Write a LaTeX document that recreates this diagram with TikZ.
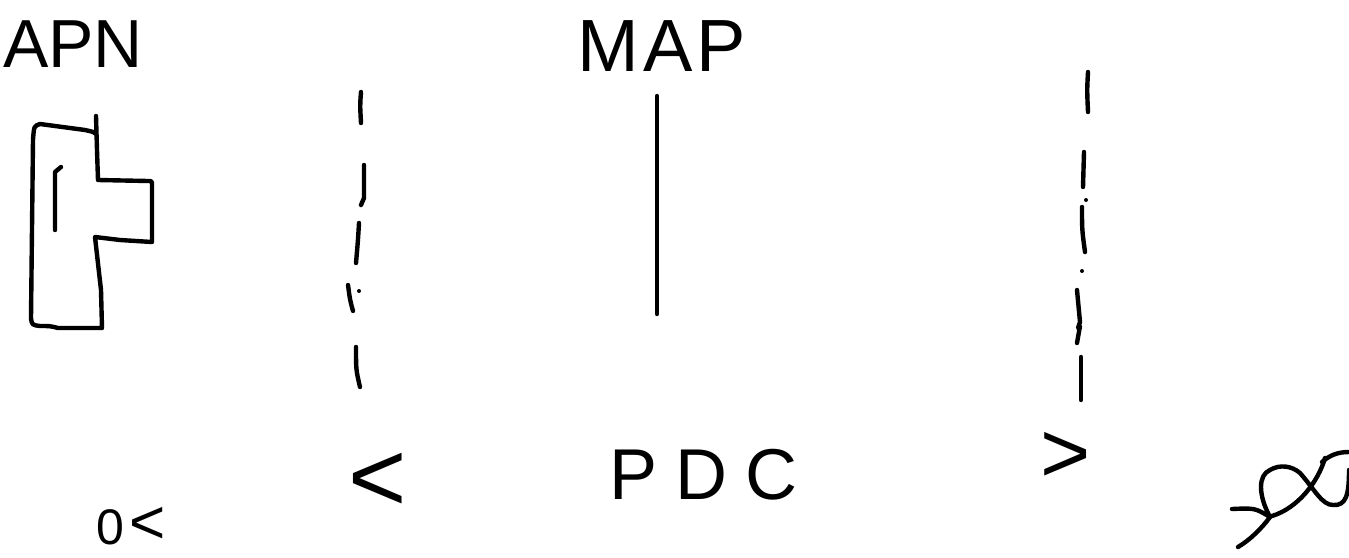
\documentclass[tikz,border=0pt]{standalone}
\usepackage{fontspec}
\setmainfont{Liberation Sans}
\begin{document}
\begin{tikzpicture}[x=1pt,y=-1pt,
  pen/.style={line width=4.4pt,line cap=round,line join=round,black},
  hand/.style={anchor=base,inner sep=0pt,black},
  dotmark/.style={fill=black}]
\useasboundingbox (0,0) rectangle (1349,557);
% labels
\node[hand,font=\fontsize{68}{72}\selectfont] (apn) at (73,67) {APN};
\node[hand,font=\fontsize{74}{78}\selectfont] (map) at (662,71) {M\kern4pt A\kern4pt P};
\node[hand,font=\fontsize{72}{76}\selectfont] (pdc) at (703,499) {P\kern18pt D\kern18pt C};
\node[hand,font=\fontsize{50}{54}\selectfont] (ok0) at (110,544) {0};
\node[hand,font=\fontsize{62}{66}\selectfont] (oklt) at (148,543) {<};
\node[hand,font=\fontsize{100}{104}\selectfont] (lt) at (378,511) {<};
\node[hand,font=\fontsize{86}{90}\selectfont] (gt) at (1066,482) {>};
% T-shaped box
\draw[pen] (96,116) -- (97,150) -- (98,180) -- (148,181) .. controls (152,181) .. (152,186)
  -- (152,242) -- (120,240) -- (95,237) -- (101,290) -- (102,328) -- (58,328)
  .. controls (50,326) .. (40,326) .. controls (32,325) .. (31,318)
  -- (33,140) .. controls (34,126) .. (40,124) -- (85,130) .. controls (94,132) .. (96,134);
\draw[pen] (61,167) -- (55,172) -- (55,230);
% middle line
\draw[pen] (657,96) -- (657,314);
% left dashed line
\draw[pen] (361,92) .. controls (360,105) .. (361,123);
\draw[pen] (364,165) -- (364,198) -- (361,205);
\draw[pen] (359,223) .. controls (358,240) .. (356,263);
\draw[pen] (348,285) .. controls (350,300) .. (353,311);
\fill[dotmark] (359,291) circle (2);
\draw[pen] (356,347) .. controls (356,370) .. (360,387);
% right dashed line
\draw[pen] (1088,72) .. controls (1087,90) .. (1088,112);
\draw[pen] (1084,152) -- (1083,187);
\fill[dotmark] (1086,200) circle (2);
\draw[pen] (1082,207) .. controls (1082,230) .. (1085,252);
\fill[dotmark] (1082,271) circle (2);
\draw[pen] (1077,290) -- (1080,322) -- (1078,328) -- (1080,326) -- (1077,343);
\draw[pen] (1081,357) -- (1081,400);
% infinity scribble
\draw[pen] (1232,509) .. controls (1255,508) .. (1270,517) .. controls (1262,528) and (1250,540) .. (1238,547);
\draw[pen] (1270,517) .. controls (1258,495) and (1258,475) .. (1270,470)
  .. controls (1280,464) and (1292,466) .. (1300,473)
  .. controls (1315,490) and (1322,505) .. (1333,505)
  .. controls (1346,506) and (1349,495) .. (1349,470);
\draw[pen] (1322,462) .. controls (1330,455) and (1338,452) .. (1349,452);
\draw[pen] (1325,458) .. controls (1318,482) and (1298,508) .. (1272,516);
\end{tikzpicture}
\end{document}
